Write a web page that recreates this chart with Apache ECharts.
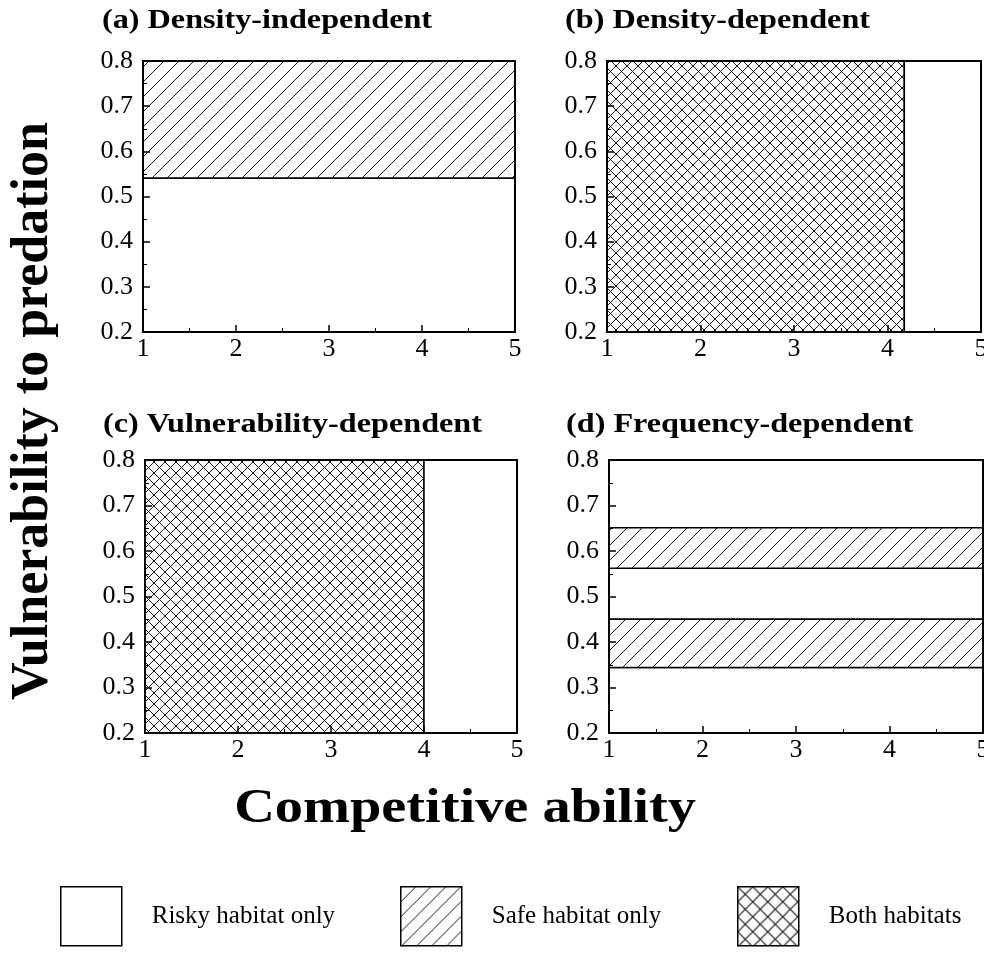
<!DOCTYPE html>
<html>
<head>
<meta charset="utf-8">
<script src="https://cdn.jsdelivr.net/npm/echarts@6/dist/echarts.min.js"></script>
<style>
  html, body { margin: 0; padding: 0; background: #fff; }
  #chart { width: 984px; height: 976px; }
</style>
</head>
<body>
<div id="chart"></div>
<script>
// Axis ranges shared by all four panels
const abilityRange = [1, 5];
const vulnerabilityRange = [0.2, 0.8];
const abilityStep = 1;
const vulnerabilityStep = 0.1;

const panelTitles = [
  '(a) Density-independent',
  '(b) Density-dependent',
  '(c) Vulnerability-dependent',
  '(d) Frequency-dependent'
];
const habitatKinds = ['Risky habitat only', 'Safe habitat only', 'Both habitats'];

// Habitat regions: [ability from, ability to, vulnerability from, vulnerability to]
const riskyA = [[1, 5, 0.2, 0.541]];
const safeA  = [[1, 5, 0.541, 0.8]];
const riskyB = [[4.18, 5, 0.2, 0.8]];
const bothB  = [[1, 4.18, 0.2, 0.8]];
const riskyC = [[4.0, 5, 0.2, 0.8]];
const bothC  = [[1, 4.0, 0.2, 0.8]];
const riskyD = [[1, 5, 0.2, 0.344], [1, 5, 0.45, 0.562], [1, 5, 0.651, 0.8]];
const safeD  = [[1, 5, 0.344, 0.45], [1, 5, 0.562, 0.651]];

const SERIF = '"Liberation Serif", "Times New Roman", serif';

// Hatch tiles: single diagonal for the safe habitat, cross-hatch for both
function hatchTile(size, cross, width) {
  const c = document.createElement('canvas');
  c.width = size; c.height = size;
  const g = c.getContext('2d');
  g.fillStyle = '#fff';
  g.fillRect(0, 0, size, size);
  g.strokeStyle = '#1a1a1a';
  g.lineWidth = width || 1;
  g.beginPath();
  for (const k of [-size, 0, size]) {
    g.moveTo(k, size); g.lineTo(k + size, 0);
    if (cross) { g.moveTo(k, 0); g.lineTo(k + size, size); }
  }
  g.stroke();
  return { image: c, repeat: 'repeat' };
}

const fills = {
  'Risky habitat only': '#ffffff',
  'Safe habitat only': hatchTile(15, false),
  'Both habitats': hatchTile(11, true)
};
const legendFills = ['#ffffff', hatchTile(15, false), hatchTile(15, true, 1.2)];

// Plot rectangles for panels a-d
const grids = [
  { left: 143, top: 61,  width: 372, height: 271 },
  { left: 607, top: 61,  width: 374, height: 271 },
  { left: 145, top: 460, width: 372, height: 273 },
  { left: 609, top: 460, width: 374, height: 273 }
];

const panelRegions = [
  [['Risky habitat only', riskyA], ['Safe habitat only', safeA]],
  [['Both habitats', bothB], ['Risky habitat only', riskyB]],
  [['Both habitats', bothC], ['Risky habitat only', riskyC]],
  [['Risky habitat only', riskyD], ['Safe habitat only', safeD]]
];

const axisLineStyle = { color: '#000', width: 2 };
const labelStyle = { fontFamily: SERIF, fontSize: 26, color: '#000' };

const xAxes = [], yAxes = [], series = [];
grids.forEach((gr, g) => {
  xAxes.push({
    gridIndex: g, type: 'value', position: 'bottom', z: 5,
    min: abilityRange[0], max: abilityRange[1], interval: abilityStep,
    axisLine: { show: true, onZero: false, lineStyle: axisLineStyle },
    axisTick: { show: true, inside: true, length: 7, lineStyle: { color: '#000', width: 1.5 } },
    minorTick: { show: true, splitNumber: 2, length: 4, lineStyle: { color: '#000', width: 1 } },
    splitLine: { show: false },
    axisLabel: Object.assign({ margin: 4, hideOverlap: false }, labelStyle)
  });
  xAxes.push({
    gridIndex: g, type: 'value', position: 'top', z: 5,
    min: abilityRange[0], max: abilityRange[1],
    axisLine: { show: true, onZero: false, lineStyle: axisLineStyle },
    axisTick: { show: false }, axisLabel: { show: false }, splitLine: { show: false }
  });
  yAxes.push({
    gridIndex: g, type: 'value', position: 'left', z: 5,
    min: vulnerabilityRange[0], max: vulnerabilityRange[1], interval: vulnerabilityStep,
    axisLine: { show: true, onZero: false, lineStyle: axisLineStyle },
    axisTick: { show: true, inside: true, length: 7, lineStyle: { color: '#000', width: 1.5 } },
    minorTick: { show: true, splitNumber: 2, length: 4, lineStyle: { color: '#000', width: 1 } },
    splitLine: { show: false },
    axisLabel: Object.assign({ margin: 10, hideOverlap: false, formatter: v => v.toFixed(1) }, labelStyle)
  });
  yAxes.push({
    gridIndex: g, type: 'value', position: 'right', z: 5,
    min: vulnerabilityRange[0], max: vulnerabilityRange[1],
    axisLine: { show: true, onZero: false, lineStyle: axisLineStyle },
    axisTick: { show: false }, axisLabel: { show: false }, splitLine: { show: false }
  });

  panelRegions[g].forEach(([kind, rows]) => {
    const fill = fills[kind];
    series.push({
      type: 'custom',
      name: kind,
      coordinateSystem: 'cartesian2d',
      xAxisIndex: g * 2,
      yAxisIndex: g * 2,
      z: 1,
      silent: true,
      itemStyle: { color: fill },
      data: rows,
      renderItem(params, api) {
        const p0 = api.coord([api.value(0), api.value(3)]);
        const p1 = api.coord([api.value(1), api.value(2)]);
        return {
          type: 'rect',
          shape: { x: p0[0], y: p0[1], width: p1[0] - p0[0], height: p1[1] - p0[1] },
          style: { fill: fill, stroke: '#000', lineWidth: 1.5 }
        };
      }
    });
  });
});

const titlePos = [[102, 21], [565, 21], [103, 425], [566, 425]];
const graphics = panelTitles.map((t, i) => ({
  type: 'text',
  x: titlePos[i][0], y: titlePos[i][1],
  scaleX: 1.15,
  style: {
    text: t, font: 'bold 28px ' + SERIF, fill: '#000',
    textAlign: 'left', verticalAlign: 'middle'
  }
}));
graphics.push({
  type: 'text', x: 465, y: 809, scaleX: 1.15,
  style: {
    text: 'Competitive ability', font: 'bold 49px ' + SERIF, fill: '#000',
    textAlign: 'center', verticalAlign: 'middle'
  }
});
graphics.push({
  type: 'text', x: 34, y: 411, rotation: Math.PI / 2,
  style: {
    text: 'Vulnerability to predation', font: 'bold 52px ' + SERIF, fill: '#000',
    textAlign: 'center', verticalAlign: 'middle'
  }
});

const legendLeft = [60, 400, 737];
const legends = habitatKinds.map((name, i) => ({
  data: [{ name, icon: 'rect', itemStyle: { color: legendFills[i], borderColor: '#000', borderWidth: 1.5 } }],
  left: legendLeft[i], top: 886, padding: 0,
  itemWidth: 61, itemHeight: 59,
  selectedMode: false,
  textStyle: { fontFamily: SERIF, fontSize: 25, color: '#000', padding: [0, 0, 0, 25] }
}));

const chart = echarts.init(document.getElementById('chart'), null, { renderer: 'canvas' });
chart.setOption({
  backgroundColor: '#fff',
  animation: false,
  grid: grids.map(g => Object.assign({ containLabel: false, outerBoundsMode: 'none' }, g)),
  xAxis: xAxes,
  yAxis: yAxes,
  legend: legends,
  graphic: graphics,
  series: series
});
</script>
</body>
</html>
